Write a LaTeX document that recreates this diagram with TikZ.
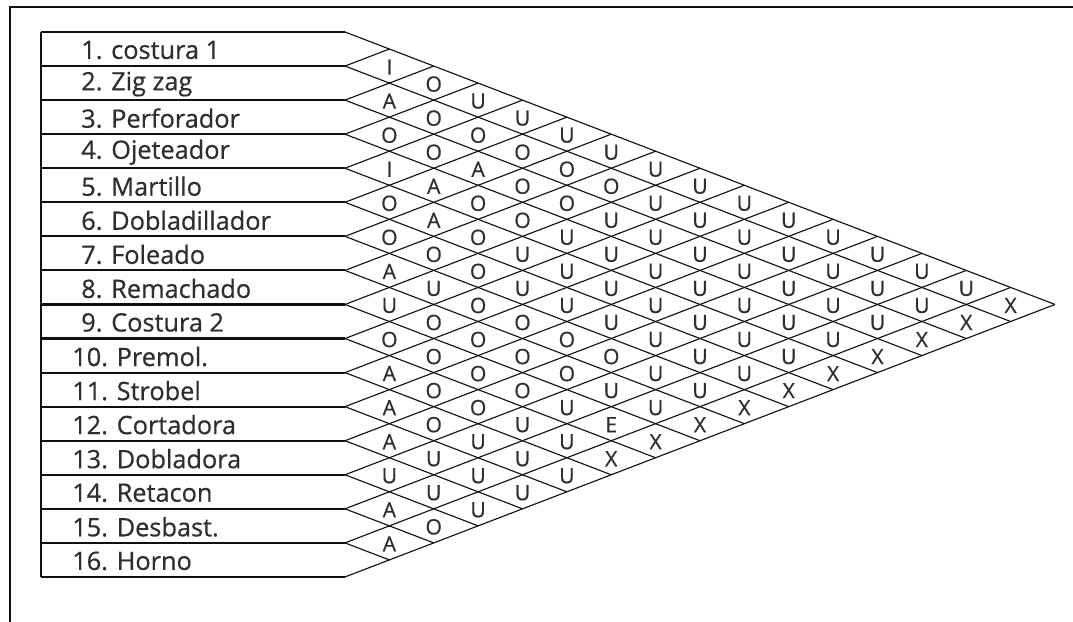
\documentclass[tikz,border=0pt]{standalone}
\usepackage{fontspec}
\setmainfont{Open Sans}
\newfontfamily\chartfont[FakeBold=0.6]{Open Sans}
\usetikzlibrary{calc,positioning}
\definecolor{ink}{HTML}{101010}
\definecolor{lettergray}{HTML}{2E2E2E}
\tikzset{
  frame/.style={
    draw=ink,
    line width=1.4pt
  },
  rowline/.style={
    draw=ink,
    line width=1.5pt
  },
  gridline/.style={
    draw=ink,
    line width=0.8pt
  },
  machine/.style={
    text=lettergray,
    anchor=west,
    inner sep=0pt,
    font=\chartfont\fontsize{18}{21}\selectfont
  },
  relcode/.style={
    text=lettergray,
    inner sep=0pt,
    font=\chartfont\fontsize{15}{17}\selectfont
  }
}

\begin{document}
\begin{tikzpicture}[x=0.025cm, y=-0.025cm]
  \clip (0,0) rectangle (1073,622);
  \draw[frame] (10,640) -- (10,7) -- (1080,7);

  \def\hw{44.375}
  \def\rh{34.06}

  \foreach \k in {0,...,16}{
    \coordinate (b\k) at (345,{32+\k*\rh});
    \coordinate (t\k) at ({345+\k*\hw},{32+\k*\rh/2});
    \coordinate (e\k) at ({345+\k*\hw},{576.96-\k*\rh/2});
  }

  \foreach \name [count=\k] in {costura 1, Zig zag, Perforador, Ojeteador,
      Martillo, Dobladillador, Foleado, Remachado, Costura 2, Premol.,
      Strobel, Cortadora, Dobladora, Retacon, Desbast., Horno}{
    \pgfmathsetmacro{\lx}{\k<10 ? 81 : 72}
    \node[machine] (m\k) at (\lx,{33+(\k-0.5)*\rh}) {\k. \name};
  }

  \foreach \k [evaluate=\k as \n using int(16-\k)] in {0,...,16}{
    \draw[rowline] (b\k) -- ++(-304,0);
    \draw[gridline] (b\k) -- (e\n);
    \draw[gridline] (b\k) -- (t\k);
  }
  \draw[rowline] (b0) ++(-304,0) -- ($(b16)+(-304,0)$);

  \foreach \codes [count=\i] in {
      {I,O,U,U,U,U,U,U,U,U,U,U,U,U,X},
      {A,O,O,O,O,O,U,U,U,U,U,U,U,X},
      {O,O,A,O,O,U,U,U,U,U,U,U,X},
      {I,A,O,O,U,U,U,U,U,U,U,X},
      {O,A,O,U,U,U,U,U,U,U,X},
      {O,O,O,U,U,U,U,U,U,X},
      {A,U,O,O,O,O,U,U,X},
      {U,O,O,O,O,U,U,X},
      {O,O,O,O,U,E,X},
      {A,O,O,U,U,X},
      {A,O,U,U,U},
      {A,U,U,U},
      {U,U,U},
      {A,O},
      {A}}{
    \foreach \c [count=\d] in \codes {
      \pgfmathtruncatemacro{\j}{\i+\d}
      \node[relcode] (r\i-\j) at ({345+\d*\hw},{33+(\i+\j-1)*\rh/2}) {\c};
    }
  }
\end{tikzpicture}
\end{document}
